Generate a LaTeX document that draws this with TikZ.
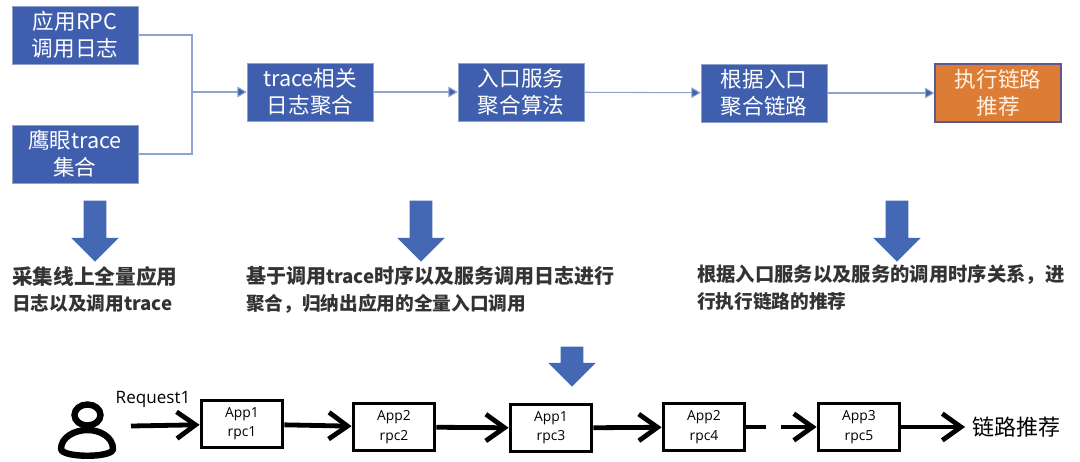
\documentclass[tikz,border=0pt]{standalone}
\usepackage{fontspec}
\setmainfont{Noto Sans CJK SC}
\newfontfamily\appfont{Open Sans}
\usetikzlibrary{arrows.meta,shapes.arrows}
\definecolor{stepblue}{HTML}{3F5FAE}
\definecolor{stepedge}{HTML}{8FA2CC}
\definecolor{inferorange}{HTML}{DD7D35}
\definecolor{inferedge}{HTML}{5F5A8C}
\definecolor{flowline}{HTML}{8FA2D4}
\definecolor{bigarrow}{HTML}{4568B4}
\definecolor{notetext}{HTML}{333333}
\newcommand{\notesmall}[1]{{\fontsize{14}{20}\selectfont #1}}
\tikzset{
	stepbox/.style = {rectangle, draw = stepedge, fill = stepblue, text = white, minimum width = 94.5pt, minimum height = 43.5pt, inner sep = 0pt, align = center, font = \fontsize{16.2}{20.5}\selectfont},
	inferbox/.style = {stepbox, draw = inferedge, line width = 1pt, fill = inferorange, text = white!90!orange},
	flow/.style = {draw = flowline, line width = .8pt},
	flowtip/.style = {flow, -{Triangle[length = 7pt, width = 8pt, fill = stepblue]}},
	bigdown/.style = {single arrow, rotate = -90, anchor = tip, fill = bigarrow, inner sep = 8.25pt, minimum width = 35pt, single arrow head extend = 9.4pt, single arrow head indent = 0pt},
	note/.style = {anchor = north west, align = left, text = notetext, inner sep = 0pt, font = \fontsize{#1}{20}\selectfont\bfseries},
	rpcbox/.style = {rectangle, draw = black, line width = 2.6pt, minimum width = 61pt, minimum height = 35pt, inner sep = 0pt, align = center, font = \appfont\fontsize{10.4}{14.5}\selectfont},
	chain/.style = {draw = black, line width = 3.6pt, -{Straight Barb[length = 14pt, width = 20pt, line width = 3.6pt]}}
}
\begin{document}
\begin{tikzpicture}[x=.75pt,y=-.75pt]
	\useasboundingbox (0,0) rectangle (1080,461);

	\node (rpclog) at ( 75,  35)	[stepbox]	{应用RPC\\调用日志};
	\node (eagle) at ( 75, 154)	[stepbox]	{鹰眼trace\\集合};
	\node (tracelog) at (310,  92)	[stepbox]	{trace相关\\日志聚合};
	\node (entry) at (521,  92)	[stepbox]	{入口服务\\聚合算法};
	\node (merge) at (764,  93)	[stepbox]	{根据入口\\聚合链路};
	\node (infer) at (998,  93)	[inferbox]	{执行链路\\推荐};

	\coordinate (join) at (192, 92);
	\draw[flow] (rpclog.east) -| (join);
	\draw[flow] (eagle.east) -| (join);
	\draw[flowtip] (join) -- (tracelog);
	\draw[flowtip] (tracelog) -- (entry);
	\draw[flowtip] (entry) -- (merge);
	\draw[flowtip] (merge) -- (infer);

	\node (down1) at ( 95, 262)	[bigdown, minimum height = 45.75pt]	{};
	\node (down2) at (421, 262)	[bigdown, minimum height = 45.75pt]	{};
	\node (down3) at (897, 262)	[bigdown, minimum height = 45.75pt]	{};
	\node (down4) at (572, 387)	[bigdown, minimum height = 30pt]	{};

	\node (note1) at ( 12, 266)	[note = 15.5]	{采集线上全量应用\\\notesmall{日志以及调用trace}};
	\node (note2) at (246, 266)	[note = 15]	{基于调用\notesmall{trace}时序以及服务调用日志进行\\\notesmall{聚合，归纳出应用的全量入口调用}};
	\node (note3) at (697, 265)	[note = 14.5]	{根据入口服务以及服务的调用时序关系，进\\\notesmall{行执行链路的推荐}};

	\draw[black, line width = 4.8pt] (87.5, 415) ellipse [x radius = 13, y radius = 10.5];
	\draw[black, line width = 4.8pt, line join = round] (61, 449) .. controls (61, 437) and (75, 430) .. (87.5, 430) .. controls (100, 430) and (113, 437) .. (113, 449) .. controls (113, 458) and (62, 458) .. (61, 449) -- cycle;

	\node (request) at (153, 399)	[font = \appfont\fontsize{12.8}{14}\selectfont, inner sep = 0pt]	{Request1};
	\coordinate (start) at (131, 426);
	\node (rpc1) at (242, 424)	[rpcbox]	{App1\\rpc1};
	\node (rpc2) at (394, 427)	[rpcbox]	{App2\\rpc2};
	\node (rpc3) at (551, 428)	[rpcbox]	{App1\\rpc3};
	\node (rpc4) at (704, 427)	[rpcbox]	{App2\\rpc4};
	\node (rpc5) at (859, 427)	[rpcbox]	{App3\\rpc5};
	\node (result) at (1016, 427)	[inner xsep = 5pt, inner ysep = 0pt, font = \fontsize{16.5}{18}\selectfont]	{链路推荐};

	\draw[chain] (start) -- (rpc1);
	\draw[chain] (rpc1) -- (rpc2);
	\draw[chain] (rpc2) -- (rpc3);
	\draw[chain] (rpc3) -- (rpc4);
	\coordinate (gapa) at (766, 427);
	\coordinate (gapb) at (781, 427);
	\draw[black, line width = 3.6pt] (rpc4) -- (gapa);
	\draw[chain] (gapb) -- (rpc5);
	\draw[chain] (rpc5) -- (result);
\end{tikzpicture}
\end{document}
